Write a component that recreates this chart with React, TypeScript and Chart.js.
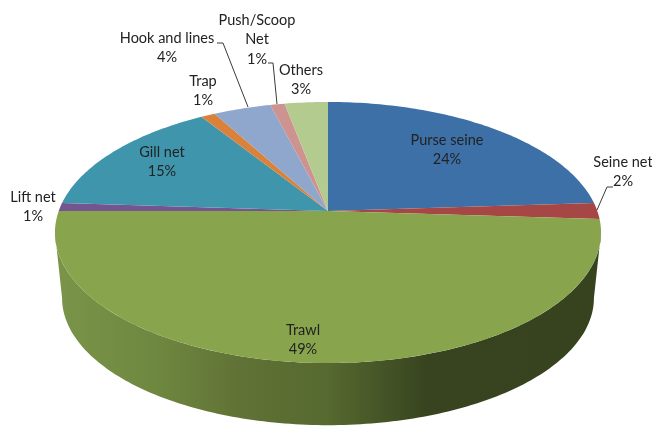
import React, { useEffect, useRef } from "react";
import { Chart, registerables } from "chart.js";

Chart.register(...registerables);

const categories = ["Purse seine", "Seine net", "Trawl", "Lift net", "Gill net", "Trap", "Hook and lines", "Push/Scoop Net", "Others"];
const shares = [24, 2, 49, 1, 15, 1, 4, 1, 3];
const sliceColors = ["#3d70a6", "#a64745", "#88a54d", "#75558f", "#3f96ac", "#da823b", "#8fa6cd", "#cd9391", "#b4cb90"];

// Text lines and anchor of every data label.
const labelLines = [["Purse seine"], ["Seine net"], ["Trawl"], ["Lift net"], ["Gill net"], ["Trap"], ["Hook and lines"], ["Push/Scoop", "Net"], ["Others"]];
const labelAnchors = [[447, 140], [623, 162], [303, 330], [33, 197], [162, 152], [203, 81], [167, 38], [257, 20], [301, 70]];
const leaderLines = [
  [[613, 187], [607, 187], [597, 210]],
  [[217, 43], [223, 43], [248, 107]],
  [[268, 63], [273, 63], [277, 104]],
];

// Perspective of the disc: vertex position, half axes and foreshortening.
const VERTEX_X = 328;
const VERTEX_Y = 211;
const SCALE_X = 269.3;
const SCALE_Y = 127;
const TILT = -0.1648;
// Lower rim of the disc relative to the upper rim's ellipse centre.
const RIM_CENTER_Y = 232.5;
const BASE_CENTER_Y = 298;
const BASE_SCALE = 0.974;

const project = (theta: number) => {
  const u = Math.sin(theta);
  const v = -Math.cos(theta);
  const w = 1 + TILT * v;
  return [VERTEX_X + (SCALE_X * u) / w, VERTEX_Y + (SCALE_Y * v) / w];
};

const projectBase = (theta: number) => {
  const [x, y] = project(theta);
  return [VERTEX_X + BASE_SCALE * (x - VERTEX_X), BASE_CENTER_Y + BASE_SCALE * (y - RIM_CENTER_Y)];
};

const sampleAngles = (start: number, end: number) => {
  const steps = Math.max(2, Math.ceil(((end - start) * 180) / Math.PI));
  return Array.from({ length: steps + 1 }, (_, i) => start + ((end - start) * i) / steps);
};

const perspectivePie = {
  id: "perspectivePie",
  beforeDatasetDraw(chart: any, args: any) {
    const { ctx } = chart;
    const arcs = args.meta.data;
    const angleRange = (arc: any) => [arc.startAngle + Math.PI / 2, arc.endAngle + Math.PI / 2];

    // Outer wall: only the front part of the rim, between the silhouette edges.
    const frontStart = Math.acos(TILT);
    const frontEnd = 2 * Math.PI - frontStart;
    const wall = ctx.createLinearGradient(55, 0, 601, 0);
    wall.addColorStop(0, "#7a9449");
    wall.addColorStop(0.18, "#6f8840");
    wall.addColorStop(0.34, "#607235");
    wall.addColorStop(0.5, "#56692f");
    wall.addColorStop(0.68, "#38441f");
    wall.addColorStop(1, "#37421f");
    arcs.forEach((arc: any) => {
      const [a0, a1] = angleRange(arc);
      const start = Math.max(a0, frontStart);
      const end = Math.min(a1, frontEnd);
      if (end <= start) return;
      const angles = sampleAngles(start, end);
      ctx.beginPath();
      angles.forEach((t, i) => {
        const [x, y] = project(t);
        if (i === 0) ctx.moveTo(x, y);
        else ctx.lineTo(x, y);
      });
      [...angles].reverse().forEach((t) => {
        const [x, y] = projectBase(t);
        ctx.lineTo(x, y);
      });
      ctx.closePath();
      ctx.fillStyle = wall;
      ctx.fill();
    });

    // Top face, one wedge per data element.
    arcs.forEach((arc: any) => {
      const [a0, a1] = angleRange(arc);
      ctx.beginPath();
      ctx.moveTo(VERTEX_X, VERTEX_Y);
      sampleAngles(a0, a1).forEach((t) => {
        const [x, y] = project(t);
        ctx.lineTo(x, y);
      });
      ctx.closePath();
      ctx.fillStyle = arc.options.backgroundColor;
      ctx.fill();
    });
    return false;
  },
  afterDraw(chart: any) {
    const { ctx } = chart;
    ctx.save();
    ctx.strokeStyle = "#3a3a3a";
    ctx.lineWidth = 1;
    leaderLines.forEach((line) => {
      ctx.beginPath();
      line.forEach(([x, y], i) => (i === 0 ? ctx.moveTo(x, y) : ctx.lineTo(x, y)));
      ctx.stroke();
    });
    ctx.font = "14.5px Lato";
    ctx.fillStyle = "#222222";
    ctx.textAlign = "center";
    ctx.textBaseline = "middle";
    categories.forEach((_, i) => {
      const [x, y] = labelAnchors[i];
      [...labelLines[i], `${shares[i]}%`].forEach((text, row) => {
        ctx.fillText(text, x, y + row * 19.5);
      });
    });
    ctx.restore();
  },
};

export default function App() {
  const canvasRef = useRef<HTMLCanvasElement>(null);

  useEffect(() => {
    const chart = new Chart(canvasRef.current!, {
      type: "pie",
      data: {
        labels: categories,
        datasets: [{ data: shares, backgroundColor: sliceColors, borderWidth: 0 }],
      },
      options: {
        responsive: false,
        animation: false,
        plugins: { legend: { display: false }, tooltip: { enabled: false } },
      },
      plugins: [perspectivePie],
    });
    return () => chart.destroy();
  }, []);

  return (
    <div style={{ position: "fixed", inset: 0, background: "#fff" }}>
      <canvas ref={canvasRef} width={652} height={426} style={{ display: "block" }} />
    </div>
  );
}
